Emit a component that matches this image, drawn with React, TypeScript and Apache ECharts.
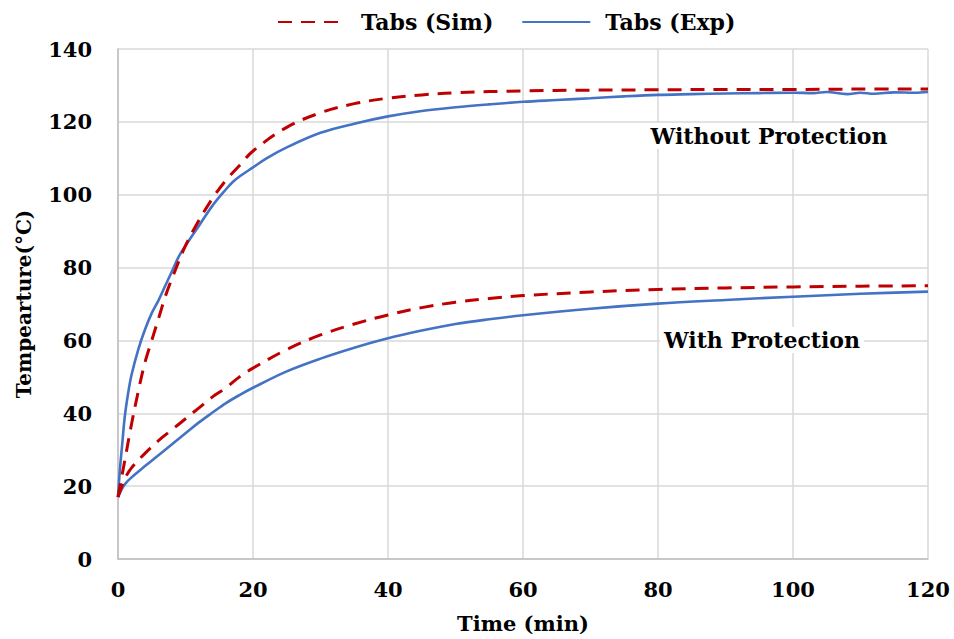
import React, { useEffect, useRef } from "react";
import * as echarts from "echarts";

const simUpperT = [0, 1, 2, 3, 4, 5, 6, 7, 8, 10, 12, 14, 16, 18, 20, 25, 30, 35, 40, 45, 50, 60, 70, 80, 90, 100, 110, 120];
const simUpperV = [17, 27, 37, 46, 54, 60, 66, 72, 77, 86, 93, 99, 104, 108, 112, 118.5, 122.5, 125, 126.5, 127.4, 128, 128.5, 128.7, 128.8, 128.9, 128.9, 129, 129];

const expUpperT = [0, 0.3, 0.6, 1, 1.5, 2, 3, 4, 5, 6, 7, 8, 9, 10, 12, 14, 16, 17, 18, 20, 22, 25, 30, 35, 40, 45, 50, 55, 60, 65, 70, 75, 80, 85, 90, 95, 100, 103, 105, 108, 110, 112, 115, 118, 120];
const expUpperV = [17, 25, 31, 39, 45.5, 50.5, 57.5, 63, 67.5, 71, 75, 79, 83, 86, 91.5, 97, 101.5, 103.5, 105, 107.5, 110, 113, 117, 119.5, 121.5, 123, 124, 124.8, 125.5, 126, 126.5, 127, 127.4, 127.6, 127.8, 127.9, 128, 127.9, 128.2, 127.6, 128, 127.7, 128.1, 128, 128.2];

const simLowerT = [0, 1, 2, 4, 6, 8, 10, 12, 14, 16, 18, 20, 25, 30, 35, 40, 45, 50, 55, 60, 70, 80, 90, 100, 110, 120];
const simLowerV = [17, 22, 25, 29, 32.5, 35.5, 38.5, 41.5, 44.5, 47, 50, 52.4, 57.5, 61.5, 64.5, 67, 69, 70.5, 71.5, 72.3, 73.3, 74, 74.4, 74.7, 74.9, 75];

const expLowerT = [0, 0.5, 1, 2, 4, 6, 8, 10, 12, 14, 16, 18, 20, 25, 30, 35, 40, 45, 50, 55, 60, 70, 80, 90, 100, 110, 120];
const expLowerV = [17, 19, 20.5, 22.4, 25.5, 28.5, 31.5, 34.5, 37.5, 40.2, 42.8, 45, 47, 51.5, 55, 58, 60.6, 62.7, 64.5, 65.8, 66.9, 68.7, 70.1, 71.1, 72, 72.8, 73.4];

const xTicks = [0, 20, 40, 60, 80, 100, 120];
const yTicks = [0, 20, 40, 60, 80, 100, 120, 140];

const SIM = "Tabs (Sim)";
const EXP = "Tabs (Exp)";
const RED = "#C00000";
const BLUE = "#4472C4";
const FONT = "DejaVu Serif";

const zip = (t: number[], v: number[]) => t.map((x, i) => [x, v[i]]);

export default function App() {
  const ref = useRef<HTMLDivElement>(null);
  useEffect(() => {
    if (!ref.current) return;
    const chart = echarts.init(ref.current, null, { renderer: "svg" });
    const simStyle = { color: RED, width: 3, type: [14, 9] as any };
    const expStyle = { color: BLUE, width: 2.6, type: "solid" as any };
    const mk = (name: string, data: number[][], ls: any, color: string) => ({
      type: "line",
      name,
      data,
      symbol: "none",
      smooth: 0.35,
      lineStyle: ls,
      itemStyle: { color },
      z: name === SIM ? 3 : 2,
    });
    const txt = { fontFamily: FONT, fontWeight: "bold", fontSize: 21, color: "#000" };
    const note = (text: string, x: number, y: number) => ({
      type: "text",
      x,
      y,
      z: 10,
      style: {
        text,
        fontFamily: FONT,
        fontWeight: "bold",
        fontSize: 22,
        fill: "#000",
        align: "center",
        verticalAlign: "middle",
        backgroundColor: "#fff",
        padding: [2, 4],
      },
    });
    chart.setOption({
      animation: false,
      backgroundColor: "#ffffff",
      textStyle: { fontFamily: FONT },
      legend: {
        top: 6,
        left: 272,
        itemWidth: 68,
        itemHeight: 14,
        itemGap: 28,
        data: [SIM, EXP],
        itemStyle: { opacity: 0 },
        textStyle: { ...txt, fontSize: 22, padding: [0, 0, 0, 10] },
      },
      grid: { left: 118, right: 26, top: 49, bottom: 77, containLabel: false },
      xAxis: {
        type: "value",
        min: xTicks[0],
        max: xTicks[xTicks.length - 1],
        interval: 20,
        name: "Time (min)",
        nameLocation: "middle",
        nameGap: 54,
        nameTextStyle: { ...txt },
        axisLine: { show: true, lineStyle: { color: "#bfbfbf", width: 1.5 } },
        axisTick: { show: false },
        axisLabel: { ...txt, margin: 20 },
        splitLine: { show: true, lineStyle: { color: "#d9d9d9", width: 1.5 } },
      },
      yAxis: {
        type: "value",
        min: yTicks[0],
        max: yTicks[yTicks.length - 1],
        interval: 20,
        name: "Tempearture(°C)",
        nameLocation: "middle",
        nameGap: 84,
        nameTextStyle: { ...txt, fontSize: 20 },
        axisLine: { show: true, lineStyle: { color: "#bfbfbf", width: 1.5 } },
        axisTick: { show: false },
        axisLabel: { ...txt, margin: 26 },
        splitLine: { show: true, lineStyle: { color: "#d9d9d9", width: 1.5 } },
      },
      series: [
        mk(EXP, zip(expUpperT, expUpperV), expStyle, BLUE),
        mk(SIM, zip(simUpperT, simUpperV), simStyle, RED),
        mk(EXP, zip(expLowerT, expLowerV), expStyle, BLUE),
        mk(SIM, zip(simLowerT, simLowerV), simStyle, RED),
      ],
      graphic: [note("Without Protection", 769, 136), note("With Protection", 762, 340)],
    });
    return () => chart.dispose();
  }, []);
  return <div ref={ref} style={{ position: "fixed", left: 0, top: 0, width: 954, height: 639 }} />;
}
